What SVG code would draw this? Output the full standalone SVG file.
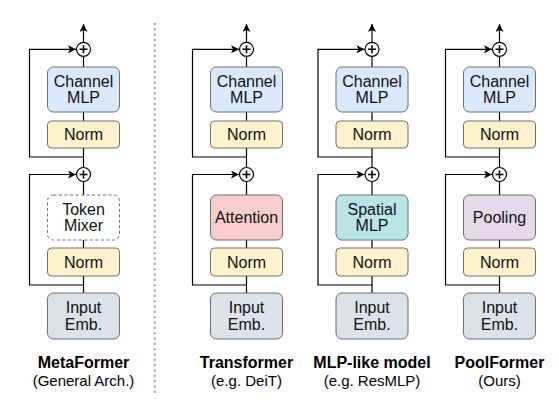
<svg xmlns="http://www.w3.org/2000/svg" width="559" height="407" viewBox="0 0 559 407">
<style>
.box{stroke:#6f6f6f;stroke-width:1}
.cm{fill:#dae8fc}
.nm{fill:#fff2cc}
.ie{fill:#dbe2e9}
.at{fill:#f8cecc}
.sm{fill:#b9e5e7}
.pl{fill:#e6d9e9}
.tm{fill:#ffffff;stroke-dasharray:3 2.5}
.ln{fill:none;stroke:#000;stroke-width:1.2}
.ci{fill:#fff;stroke:#000;stroke-width:1.2}
.pc{fill:none;stroke:#000;stroke-width:1.6}
.t{font-family:"Liberation Sans",Arial,sans-serif;font-size:16px;fill:#111;text-anchor:middle}
.tb{font-family:"Liberation Sans",Arial,sans-serif;font-size:16px;font-weight:bold;fill:#000;text-anchor:middle}
.ts{font-family:"Liberation Sans",Arial,sans-serif;font-size:15px;fill:#000;text-anchor:middle}
</style>
<defs>
<marker id="ah" viewBox="0 0 10 10" refX="10" refY="5" markerWidth="10" markerHeight="8" markerUnits="userSpaceOnUse" orient="auto">
<path d="M0,0 L10,5 L0,10 L2.5,5 Z" fill="#000"/>
</marker>
<g id="plus"><circle class="ci" cx="0" cy="0" r="7"/><path class="pc" d="M-4,0 H4 M0,-4 V4"/></g>
</defs>
<line x1="154.7" y1="23" x2="154.7" y2="394" stroke="#9a9a9a" stroke-width="2" stroke-dasharray="2 3.33"/>
<g id="connectors">
<path class="ln" d="M83.5,42.3 V24" marker-end="url(#ah)"/>
<path class="ln" d="M83.5,56.3 V67 M83.5,112 V121 M83.5,148 V167.5 M83.5,181.5 V195 M83.5,240 V248 M83.5,276 V293"/>
<path class="ln" d="M83.5,157 H29.5 V49.3 H76" marker-end="url(#ah)"/>
<path class="ln" d="M83.5,285 H29.5 V174.5 H76" marker-end="url(#ah)"/>
<path class="ln" d="M246.5,42.3 V24" marker-end="url(#ah)"/>
<path class="ln" d="M246.5,56.3 V67 M246.5,112 V121 M246.5,148 V167.5 M246.5,181.5 V195 M246.5,240 V248 M246.5,276 V293"/>
<path class="ln" d="M246.5,157 H192.5 V49.3 H239" marker-end="url(#ah)"/>
<path class="ln" d="M246.5,285 H192.5 V174.5 H239" marker-end="url(#ah)"/>
<path class="ln" d="M372,42.3 V24" marker-end="url(#ah)"/>
<path class="ln" d="M372,56.3 V67 M372,112 V121 M372,148 V167.5 M372,181.5 V195 M372,240 V248 M372,276 V293"/>
<path class="ln" d="M372,157 H318 V49.3 H364.5" marker-end="url(#ah)"/>
<path class="ln" d="M372,285 H318 V174.5 H364.5" marker-end="url(#ah)"/>
<path class="ln" d="M499.5,42.3 V24" marker-end="url(#ah)"/>
<path class="ln" d="M499.5,56.3 V67 M499.5,112 V121 M499.5,148 V167.5 M499.5,181.5 V195 M499.5,240 V248 M499.5,276 V293"/>
<path class="ln" d="M499.5,157 H445.5 V49.3 H492" marker-end="url(#ah)"/>
<path class="ln" d="M499.5,285 H445.5 V174.5 H492" marker-end="url(#ah)"/>
</g>
<g id="c1-add2"><use href="#plus" x="83.5" y="49.3"/></g>
<g id="c1-channel-mlp"><rect class="box cm" x="47.5" y="67" width="72" height="45" rx="6"/><text class="t" x="83.5" y="87">Channel</text><text class="t" x="83.5" y="103">MLP</text></g>
<g id="c1-norm2"><rect class="box nm" x="47.5" y="121" width="72" height="27" rx="4"/><text class="t" x="83.5" y="140">Norm</text></g>
<g id="c1-add1"><use href="#plus" x="83.5" y="174.5"/></g>
<g id="c1-token-mixer"><rect class="box tm" x="47.5" y="195" width="72" height="45" rx="6"/><text class="t" x="83.5" y="215">Token</text><text class="t" x="83.5" y="231">Mixer</text></g>
<g id="c1-norm1"><rect class="box nm" x="47.5" y="248" width="72" height="28" rx="4"/><text class="t" x="83.5" y="267.5">Norm</text></g>
<g id="c1-input"><rect class="box ie" x="47.5" y="293" width="72" height="46" rx="6"/><text class="t" x="83.5" y="313">Input</text><text class="t" x="83.5" y="330">Emb.</text></g>
<g id="c1-label"><text class="tb" x="83.5" y="368">MetaFormer</text><text class="ts" x="83.5" y="386">(General Arch.)</text></g>
<g id="c2-add2"><use href="#plus" x="246.5" y="49.3"/></g>
<g id="c2-channel-mlp"><rect class="box cm" x="210.5" y="67" width="72" height="45" rx="6"/><text class="t" x="246.5" y="87">Channel</text><text class="t" x="246.5" y="103">MLP</text></g>
<g id="c2-norm2"><rect class="box nm" x="210.5" y="121" width="72" height="27" rx="4"/><text class="t" x="246.5" y="140">Norm</text></g>
<g id="c2-add1"><use href="#plus" x="246.5" y="174.5"/></g>
<g id="c2-attention"><rect class="box at" x="210.5" y="195" width="72" height="45" rx="6"/><text class="t" x="246.5" y="223">Attention</text></g>
<g id="c2-norm1"><rect class="box nm" x="210.5" y="248" width="72" height="28" rx="4"/><text class="t" x="246.5" y="267.5">Norm</text></g>
<g id="c2-input"><rect class="box ie" x="210.5" y="293" width="72" height="46" rx="6"/><text class="t" x="246.5" y="313">Input</text><text class="t" x="246.5" y="330">Emb.</text></g>
<g id="c2-label"><text class="tb" x="246.5" y="368">Transformer</text><text class="ts" x="246.5" y="386">(e.g. DeiT)</text></g>
<g id="c3-add2"><use href="#plus" x="372" y="49.3"/></g>
<g id="c3-channel-mlp"><rect class="box cm" x="336" y="67" width="72" height="45" rx="6"/><text class="t" x="372" y="87">Channel</text><text class="t" x="372" y="103">MLP</text></g>
<g id="c3-norm2"><rect class="box nm" x="336" y="121" width="72" height="27" rx="4"/><text class="t" x="372" y="140">Norm</text></g>
<g id="c3-add1"><use href="#plus" x="372" y="174.5"/></g>
<g id="c3-spatial-mlp"><rect class="box sm" x="336" y="195" width="72" height="45" rx="6"/><text class="t" x="372" y="215">Spatial</text><text class="t" x="372" y="231">MLP</text></g>
<g id="c3-norm1"><rect class="box nm" x="336" y="248" width="72" height="28" rx="4"/><text class="t" x="372" y="267.5">Norm</text></g>
<g id="c3-input"><rect class="box ie" x="336" y="293" width="72" height="46" rx="6"/><text class="t" x="372" y="313">Input</text><text class="t" x="372" y="330">Emb.</text></g>
<g id="c3-label"><text class="tb" x="372" y="368">MLP-like model</text><text class="ts" x="372" y="386">(e.g. ResMLP)</text></g>
<g id="c4-add2"><use href="#plus" x="499.5" y="49.3"/></g>
<g id="c4-channel-mlp"><rect class="box cm" x="463.5" y="67" width="72" height="45" rx="6"/><text class="t" x="499.5" y="87">Channel</text><text class="t" x="499.5" y="103">MLP</text></g>
<g id="c4-norm2"><rect class="box nm" x="463.5" y="121" width="72" height="27" rx="4"/><text class="t" x="499.5" y="140">Norm</text></g>
<g id="c4-add1"><use href="#plus" x="499.5" y="174.5"/></g>
<g id="c4-pooling"><rect class="box pl" x="463.5" y="195" width="72" height="45" rx="6"/><text class="t" x="499.5" y="223">Pooling</text></g>
<g id="c4-norm1"><rect class="box nm" x="463.5" y="248" width="72" height="28" rx="4"/><text class="t" x="499.5" y="267.5">Norm</text></g>
<g id="c4-input"><rect class="box ie" x="463.5" y="293" width="72" height="46" rx="6"/><text class="t" x="499.5" y="313">Input</text><text class="t" x="499.5" y="330">Emb.</text></g>
<g id="c4-label"><text class="tb" x="499.5" y="368">PoolFormer</text><text class="ts" x="499.5" y="386">(Ours)</text></g>
</svg>
